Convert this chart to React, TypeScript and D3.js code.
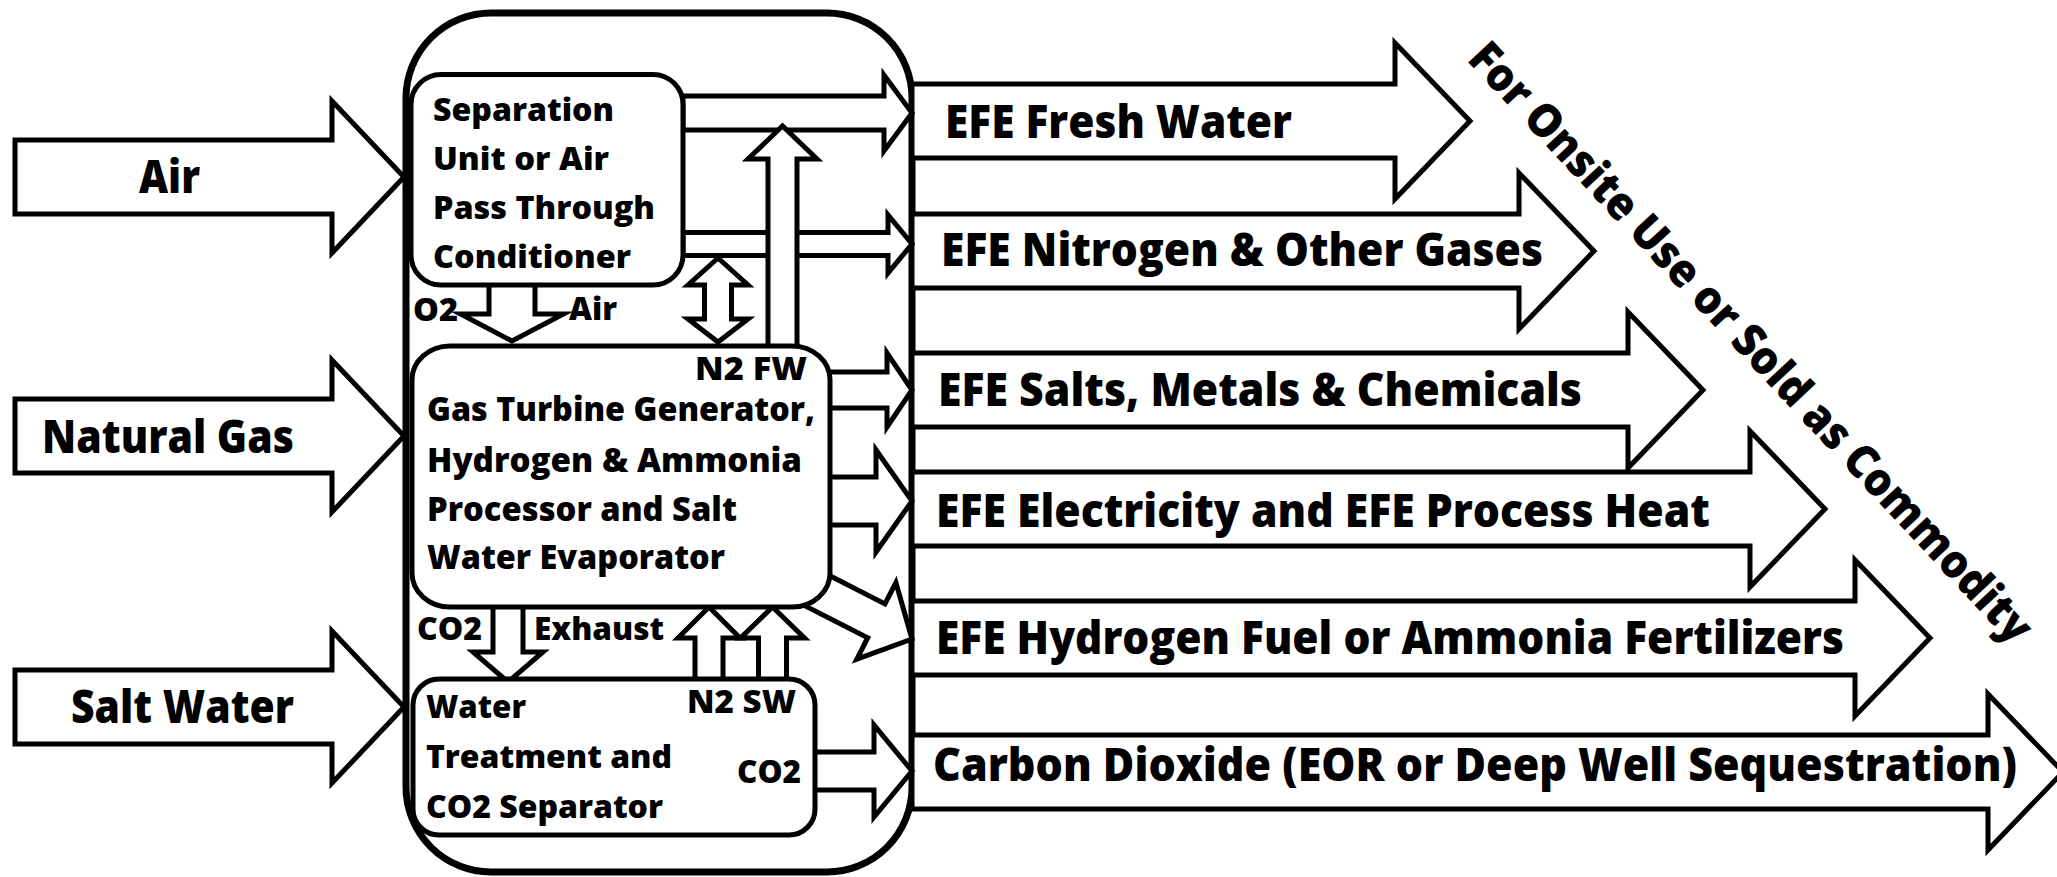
import React from 'react';
import * as d3 from 'd3';

// ---------- content ----------
const inputLabels = ['Air', 'Natural Gas', 'Salt Water'];
const outputLabels = [
  'EFE Fresh Water',
  'EFE Nitrogen & Other Gases',
  'EFE Salts, Metals & Chemicals',
  'EFE Electricity and EFE Process Heat',
  'EFE Hydrogen Fuel or Ammonia Fertilizers',
  'Carbon Dioxide (EOR or Deep Well Sequestration)',
];
const separatorLines = ['Separation', 'Unit or Air', 'Pass Through', 'Conditioner'];
const turbineLines = ['Gas Turbine Generator,', 'Hydrogen & Ammonia', 'Processor and Salt', 'Water Evaporator'];
const treatmentLines = ['Water', 'Treatment and', 'CO2 Separator'];
const flowLabels = ['O2', 'Air', 'N2 FW', 'CO2', 'Exhaust', 'N2 SW', 'CO2'];
const sideNote = 'For Onsite Use or Sold as Commodity';

// ---------- layout ----------
const W = 2057;
const H = 877;
const inputLayout = [
  { cy: 177, tx: 139, ty: 193, w: 61 },
  { cy: 436, tx: 42, ty: 453, w: 252 },
  { cy: 707, tx: 71, ty: 723, w: 223 },
];
const outputLayout = [
  { cy: 121, base: 1395, tx: 945, ty: 138, w: 347 },
  { cy: 251, base: 1519, tx: 941, ty: 266, w: 602 },
  { cy: 390, base: 1628, tx: 938, ty: 406, w: 644 },
  { cy: 509, base: 1750, tx: 936, ty: 527, w: 774 },
  { cy: 638, base: 1855, tx: 936, ty: 654, w: 908 },
  { cy: 772, base: 1988, tx: 933, ty: 781, w: 1084 },
];
const separatorText = { x: 433, ys: [121, 170, 219, 268], ws: [181, 176, 222, 198] };
const turbineText = { x: 427, ys: [421, 472, 521, 569], ws: [388, 375, 310, 298] };
const treatmentText = { x: 426, ys: [718, 768, 818], ws: [100, 246, 237] };
const flowLayout = [
  { x: 413, y: 321, w: 45 },
  { x: 569, y: 320, w: 48 },
  { x: 695, y: 380, w: 112 },
  { x: 417, y: 640, w: 65 },
  { x: 534, y: 640, w: 130 },
  { x: 687, y: 713, w: 109 },
  { x: 737, y: 783, w: 64 },
];
// small horizontal connector arrows: [x0, headBase, tip, cy, bodyHalf, headHalf]
const smallArrows = [
  [683, 884, 912, 113, 17, 38],
  [683, 888, 912, 244, 11.5, 29],
  [828, 887, 912, 390, 18, 37],
  [828, 876, 912, 501, 24, 51],
  [813, 874, 912, 771, 19, 46],
];

const FONT = "'Open Sans', 'Noto Sans', sans-serif";
const lineGen = d3.line<[number, number]>().curve(d3.curveLinearClosed);

function hArrow(x0: number, xb: number, xt: number, cy: number, bh: number, hh: number): [number, number][] {
  return [
    [x0, cy - bh], [xb, cy - bh], [xb, cy - hh], [xt, cy],
    [xb, cy + hh], [xb, cy + bh], [x0, cy + bh],
  ];
}
function vArrow(cx: number, y0: number, yb: number, yt: number, bw: number, hw: number): [number, number][] {
  return [
    [cx - bw, y0], [cx - bw, yb], [cx - hw, yb], [cx, yt],
    [cx + hw, yb], [cx + bw, yb], [cx + bw, y0],
  ];
}
function dArrow(cx: number, t1: number, b1: number, b2: number, t2: number, bw: number, hw: number): [number, number][] {
  return [
    [cx, t1], [cx + hw, b1], [cx + bw, b1], [cx + bw, b2], [cx + hw, b2], [cx, t2],
    [cx - hw, b2], [cx - bw, b2], [cx - bw, b1], [cx - hw, b1],
  ];
}

const Shape = ({ pts, sw = 5 }: { pts: [number, number][]; sw?: number }) => (
  <path d={lineGen(pts) || ''} fill="#fff" stroke="#000" strokeWidth={sw} strokeLinejoin="miter" strokeMiterlimit={10} />
);

const T = ({ x, y, w, size, children }: { x: number; y: number; w: number; size: number; children: React.ReactNode }) => (
  <text x={x} y={y} fontSize={size} textLength={w} lengthAdjust="spacingAndGlyphs">{children}</text>
);

export default function App() {
  // diagonal arrow (turbine -> hydrogen)
  const dStart: [number, number] = [810, 587];
  const dTip: [number, number] = [912, 639];
  const ang = (Math.atan2(dTip[1] - dStart[1], dTip[0] - dStart[0]) * 180) / Math.PI;
  const len = Math.hypot(dTip[0] - dStart[0], dTip[1] - dStart[1]);

  return (
    <svg
      width={W}
      height={H}
      viewBox={`0 0 ${W} ${H}`}
      style={{ position: 'absolute', left: 0, top: 0, background: '#fff' }}
      fontFamily={FONT}
      fontWeight={800}
    >
      <rect x={0} y={0} width={W} height={H} fill="#fff" />

      {/* input arrows */}
      {inputLayout.map((d, i) => (
        <g key={'in' + i}>
          <Shape pts={hArrow(15, 332, 404, d.cy, 37, 76)} />
          <T x={d.tx} y={d.ty} w={d.w} size={46}>{inputLabels[i]}</T>
        </g>
      ))}

      {/* outer container */}
      <rect x={406} y={13} width={506} height={859} rx={85} ry={85} fill="#fff" stroke="#000" strokeWidth={7} />

      {/* output arrows */}
      {outputLayout.map((d, i) => (
        <g key={'out' + i}>
          <Shape pts={hArrow(912, d.base, d.base + 75, d.cy, 37, 78)} />
          <T x={d.tx} y={d.ty} w={d.w} size={46}>{outputLabels[i]}</T>
        </g>
      ))}

      {/* small connector arrows */}
      {smallArrows.map((a, i) => (
        <Shape key={'sa' + i} pts={hArrow(a[0], a[1], a[2], a[3], a[4], a[5])} />
      ))}

      {/* diagonal arrow */}
      <g transform={`translate(${dStart[0]},${dStart[1]}) rotate(${ang})`}>
        <Shape pts={hArrow(0, len - 40, len, 0, 19, 43)} />
      </g>

      {/* vertical arrows */}
      <Shape pts={vArrow(782.5, 350, 159, 126, 14.5, 34.5)} />
      <Shape pts={dArrow(718, 258, 285, 319, 342, 13.5, 30)} />
      <Shape pts={vArrow(512, 280, 314, 341, 23, 51.5)} />
      <Shape pts={vArrow(508, 600, 652, 682, 15, 35)} />
      <Shape pts={vArrow(709, 684, 638, 607, 14, 31)} />
      <Shape pts={vArrow(772.5, 684, 638, 607, 14, 32)} />

      {/* inner boxes */}
      <rect x={411} y={74.5} width={272} height={210.5} rx={30} ry={30} fill="#fff" stroke="#000" strokeWidth={5} />
      <rect x={412} y={346} width={418} height={261} rx={38} ry={34} fill="#fff" stroke="#000" strokeWidth={5} />
      <rect x={413} y={679} width={402} height={156} rx={26} ry={26} fill="#fff" stroke="#000" strokeWidth={5} />

      {/* box text */}
      {separatorLines.map((s, i) => (
        <T key={'sp' + i} x={separatorText.x} y={separatorText.ys[i]} w={separatorText.ws[i]} size={32}>{s}</T>
      ))}
      {turbineLines.map((s, i) => (
        <T key={'tb' + i} x={turbineText.x} y={turbineText.ys[i]} w={turbineText.ws[i]} size={33}>{s}</T>
      ))}
      {treatmentLines.map((s, i) => (
        <T key={'tr' + i} x={treatmentText.x} y={treatmentText.ys[i]} w={treatmentText.ws[i]} size={32}>{s}</T>
      ))}

      {/* flow labels */}
      {flowLabels.map((s, i) => (
        <T key={'fl' + i} x={flowLayout[i].x} y={flowLayout[i].y} w={flowLayout[i].w} size={31}>{s}</T>
      ))}

      {/* diagonal note */}
      <text
        transform="translate(1466,60) rotate(47)"
        fontSize={46}
        textLength={802}
        lengthAdjust="spacingAndGlyphs"
      >
        {sideNote}
      </text>
    </svg>
  );
}
